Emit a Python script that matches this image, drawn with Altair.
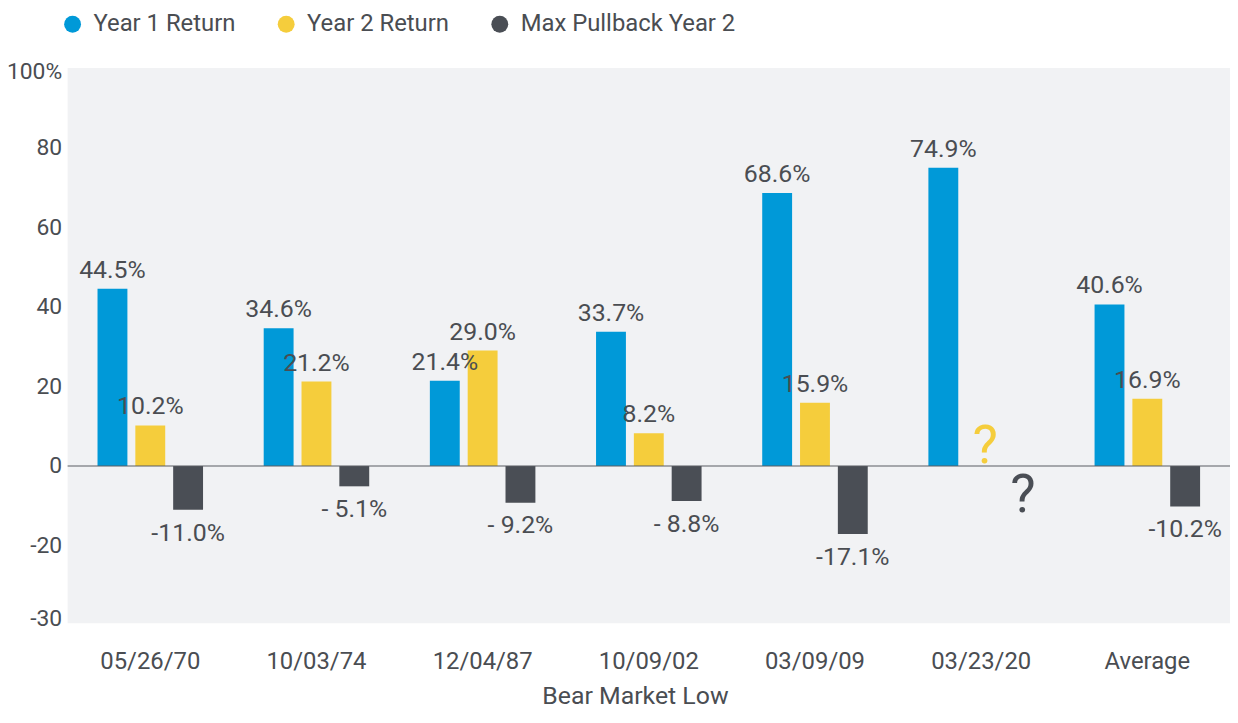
import altair as alt
import pandas as pd

categories = ["05/26/70", "10/03/74", "12/04/87", "10/09/02", "03/09/09", "03/23/20", "Average"]
series = ["Year 1 Return", "Year 2 Return", "Max Pullback Year 2"]
year1 = [44.5, 34.6, 21.4, 33.7, 68.6, 74.9, 40.6]
year2 = [10.2, 21.2, 29.0, 8.2, 15.9, None, 16.9]
pullback = [-11.0, -5.1, -9.2, -8.8, -17.1, None, -10.2]
year1_labels = ["44.5%", "34.6%", "21.4%", "33.7%", "68.6%", "74.9%", "40.6%"]
year2_labels = ["10.2%", "21.2%", "29.0%", "8.2%", "15.9%", None, "16.9%"]
pullback_labels = ["-11.0%", "- 5.1%", "- 9.2%", "- 8.8%", "-17.1%", None, "-10.2%"]

unknown_category = "03/23/20"
unknown_series = ["Year 2 Return", "Max Pullback Year 2"]
unknown_text = ["?", "?"]

colors = ["#0099D8", "#F5CD3C", "#4A4E55"]
y_tick_values = [99, 80, 60, 40, 20, 0, -20, -38.25]
y_tick_labels = ["100%", "80", "60", "40", "20", "0", "-20", "-30"]
x_title = "Bear Market Low"

FONT = "Roboto, 'Liberation Sans', sans-serif"
TEXT = "#4A4D52"

rows = []
for s, vals, labs in zip(series, [year1, year2, pullback], [year1_labels, year2_labels, pullback_labels]):
    for c, v, l in zip(categories, vals, labs):
        if v is not None:
            rows.append({"category": c, "series": s, "value": v, "label": l})
df = pd.DataFrame(rows)

qdf = pd.DataFrame({"category": [unknown_category] * len(unknown_series),
                    "series": unknown_series, "value": [0] * len(unknown_series),
                    "label": unknown_text})
zdf = pd.DataFrame({"zero": [0]})

expr = ""
for v, l in zip(y_tick_values, y_tick_labels):
    expr += f"datum.value == {v} ? '{l}' : "
expr += "''"

x_enc = alt.X("category:N", sort=categories,
              scale=alt.Scale(paddingInner=0.365, paddingOuter=0.18),
              axis=alt.Axis(title=x_title, labelAngle=0, ticks=False, domain=False,
                            labelPadding=27, labelFontSize=24, labelColor=TEXT,
                            titleFontSize=25, titleFontWeight="normal", titleColor=TEXT,
                            titleX=571, titleY=73, titleAlign="center", titleBaseline="middle"))
x_txt = alt.X("category:N", sort=categories)
xo_enc = alt.XOffset("series:N", sort=series, scale=alt.Scale(paddingInner=0.21, paddingOuter=0))
xo_txt = alt.XOffset("series:N", sort=series)
y_enc = alt.Y("value:Q", scale=alt.Scale(domain=[-39.5, 100], nice=False, zero=False),
              axis=alt.Axis(values=y_tick_values, labelExpr=expr, title=None, ticks=False,
                            domain=False, grid=False, labelPadding=6, labelFontSize=23,
                            labelColor=TEXT))
color_scale = alt.Scale(domain=series, range=colors)

bars = alt.Chart(df).mark_bar().encode(
    x=x_enc, xOffset=xo_enc, y=y_enc,
    color=alt.Color("series:N", scale=color_scale, sort=series,
                    legend=alt.Legend(orient="none", legendX=-7, legendY=-56,
                                      direction="horizontal", title=None,
                                      symbolType="circle", symbolSize=289,
                                      symbolStrokeWidth=0, labelFontSize=24,
                                      labelColor=TEXT, labelOffset=9, labelLimit=400,
                                      columnPadding=39, padding=0)),
)

zero = alt.Chart(zdf).mark_rule(color="#5A5D62", strokeWidth=1.2).encode(y="zero:Q")

pos = alt.Chart(df).transform_filter("datum.value >= 0").mark_text(
    baseline="alphabetic", dy=-11, fontSize=25, color=TEXT).encode(
    x=x_txt, xOffset=xo_txt, y="value:Q", text="label:N")

neg = alt.Chart(df).transform_filter("datum.value < 0").mark_text(
    baseline="alphabetic", dy=31, fontSize=25, color=TEXT).encode(
    x=x_txt, xOffset=xo_txt, y="value:Q", text="label:N")

q_up = alt.Chart(qdf).transform_filter(f"datum.series == '{unknown_series[0]}'").mark_text(
    baseline="alphabetic", dy=-3, dx=4, fontSize=54).encode(
    x=x_txt, xOffset=xo_txt, y="value:Q", text="label:N",
    color=alt.Color("series:N", scale=color_scale, legend=None))

q_down = alt.Chart(qdf).transform_filter(f"datum.series == '{unknown_series[1]}'").mark_text(
    baseline="alphabetic", dy=46, dx=4, fontSize=54).encode(
    x=x_txt, xOffset=xo_txt, y="value:Q", text="label:N",
    color=alt.Color("series:N", scale=color_scale, legend=None))

chart = alt.layer(bars, zero, pos, neg, q_up, q_down).properties(
    width=1170, height=559,
    autosize=alt.AutoSizeParams(type="none"),
    padding={"left": 60, "top": 58, "right": 0, "bottom": 84},
).configure(font=FONT).configure_view(fill="#F1F2F4", strokeWidth=0)

chart.save("out.html", embed_options={"renderer": "svg", "actions": False})
